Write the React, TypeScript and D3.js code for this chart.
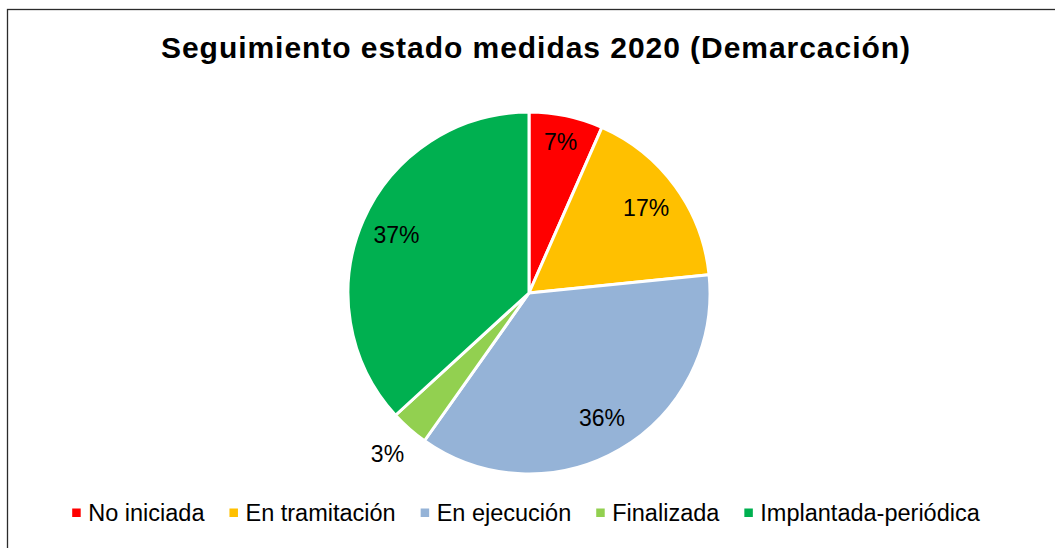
import React from "react";
import * as d3 from "d3";

const categories = ["No iniciada", "En tramitación", "En ejecución", "Finalizada", "Implantada-periódica"];
const values = [6.6, 16.8, 36.4, 3.4, 36.8];
const labels = ["7%", "17%", "36%", "3%", "37%"];
const colors = ["#FF0000", "#FFC000", "#95B3D7", "#92D050", "#00B050"];
const title = "Seguimiento estado medidas 2020 (Demarcación)";

const W = 1055;
const H = 548;
const FONT = "'Liberation Sans', Arial, sans-serif";

function measure(text: string, font: string): number {
  if (typeof document === "undefined") return text.length * 12;
  const c = document.createElement("canvas");
  const ctx = c.getContext("2d");
  if (!ctx) return text.length * 12;
  ctx.font = font;
  return ctx.measureText(text).width;
}

export default function App() {
  const cx = 529;
  const cy = 293;
  const R = 181;
  const data = categories.map((c, i) => ({ name: c, value: values[i], label: labels[i], color: colors[i] }));
  const pie = d3.pie<any>().sort(null).value((d) => d.value).startAngle(0).endAngle(2 * Math.PI);
  const arcs = pie(data);
  const arc = d3.arc<any>().innerRadius(0).outerRadius(R);
  const total = d3.sum(values);

  const legendFontSize = 23.5;
  const legendFont = `${legendFontSize}px 'Liberation Sans'`;
  const markerSize = 8.5;
  const textOffset = 16;
  const gap = 25;
  const widths = categories.map((c) => measure(c, legendFont));
  const totalW = d3.sum(widths) + categories.length * textOffset + (categories.length - 1) * gap;
  const legendStart = 526 - totalW / 2;
  const legendX: number[] = [];
  let acc = legendStart;
  widths.forEach((w) => {
    legendX.push(acc);
    acc += textOffset + w + gap;
  });
  const legendBaseline = 521;

  return (
    <svg width={W} height={H} style={{ position: "absolute", left: 0, top: 0, background: "#fff" }} fontFamily={FONT}>
      <rect x={0} y={0} width={W} height={H} fill="#fff" />
      <rect x={7.5} y={9.5} width={W + 20} height={H + 20} fill="none" stroke="#2b2b2b" strokeWidth={1.3} />
      <text x={535.5} y={58} textAnchor="middle" fontSize={30} fontWeight="bold" fill="#000" textLength={749} lengthAdjust="spacing">
        {title}
      </text>
      <g transform={`translate(${cx},${cy})`}>
        {arcs.map((a, i) => (
          <path key={i} d={arc(a) as string} fill={a.data.color} stroke="#fff" strokeWidth={3} strokeLinejoin="round" />
        ))}
        {arcs.map((a, i) => {
          const frac = a.data.value / total;
          const mid = (a.startAngle + a.endAngle) / 2;
          let r = R * 0.8;
          if (frac < 0.05) r = R + 33;
          else if (frac < 0.1) r = R * 0.85;
          const x = Math.sin(mid) * r;
          const y = -Math.cos(mid) * r;
          return (
            <text key={i} x={x} y={y} textAnchor="middle" dominantBaseline="central" fontSize={23} fill="#000">
              {a.data.label}
            </text>
          );
        })}
      </g>
      {data.map((d, i) => (
        <g key={i}>
          <rect x={legendX[i]} y={legendBaseline - 12.5} width={markerSize} height={markerSize} fill={d.color} />
          <text x={legendX[i] + textOffset} y={legendBaseline} fontSize={legendFontSize} fill="#000">
            {d.name}
          </text>
        </g>
      ))}
    </svg>
  );
}
